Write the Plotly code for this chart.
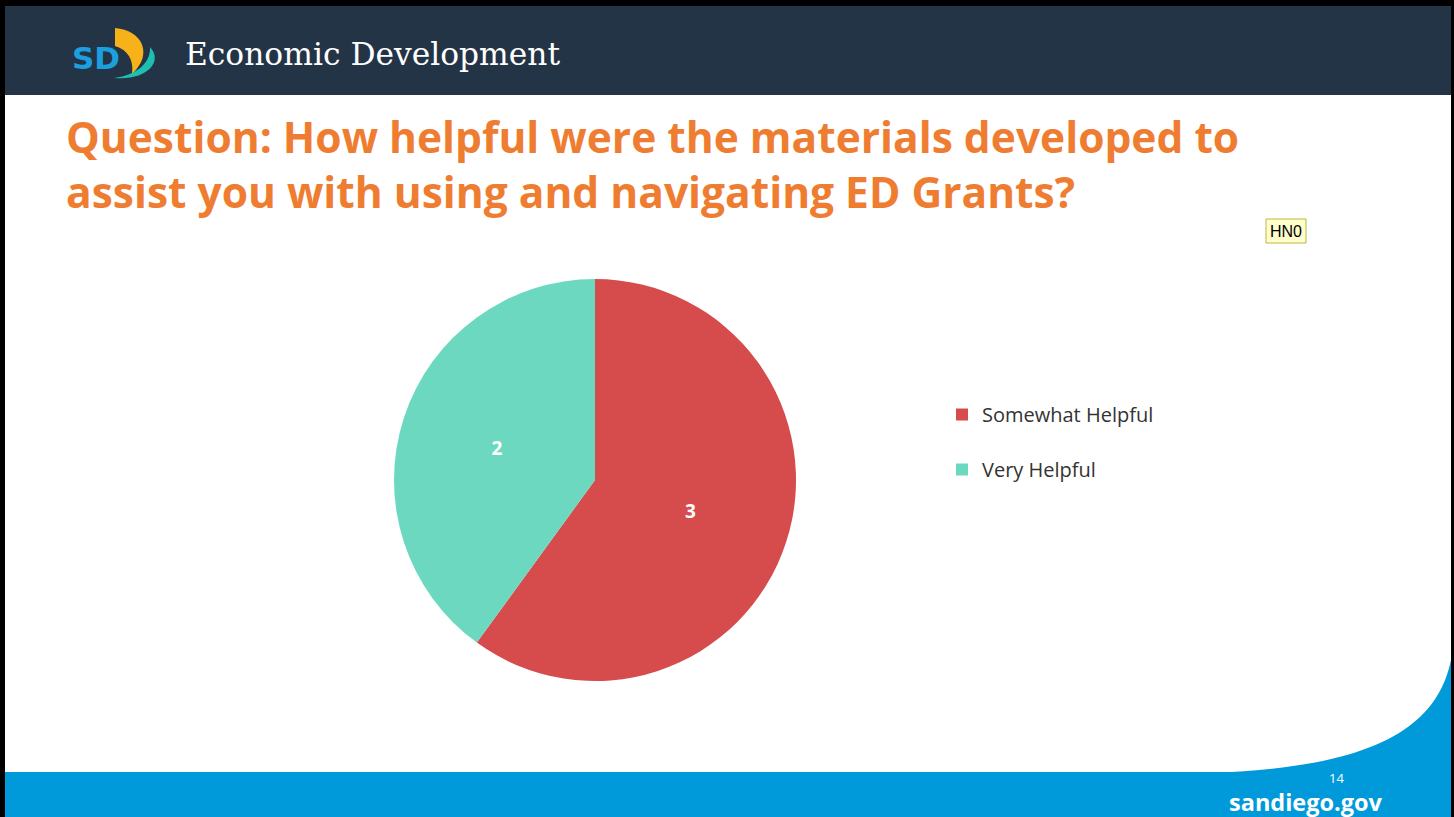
import plotly.graph_objects as go

W, H = 1454, 817

# ---- data ----
labels = ["Somewhat Helpful", "Very Helpful"]
values = [3, 2]
slice_colors = ["#D64C4C", "#6DD8C0"]
title_lines = ["Question: How helpful were the materials developed to",
               "assist you with using and navigating ED Grants?"]
header_text = "Economic Development"
footer_text = "sandiego.gov"
page_number = "14"
note_text = "HN0"


def X(px):
    return px / W


def Y(py):
    return 1 - py / H


def path(cmds):
    out = []
    for c in cmds:
        if isinstance(c, str):
            out.append(c)
        else:
            out.append(f"{X(c[0]):.5f},{Y(c[1]):.5f}")
    return " ".join(out)


fig = go.Figure()

fig.add_trace(go.Pie(
    labels=[l + "<br> " for l in labels],
    values=values,
    sort=False,
    direction="clockwise",
    rotation=0,
    marker=dict(colors=slice_colors, line=dict(width=0)),
    textinfo="value",
    textposition="inside",
    insidetextorientation="horizontal",
    textfont=dict(family="Open Sans", size=19, color="white", weight="bold"),
    domain=dict(x=[X(394), X(796)], y=[Y(681), Y(279)]),
    hoverinfo="label+value",
))

shapes = []
# header band
shapes.append(dict(type="rect", xref="paper", yref="paper", x0=X(0), x1=X(W), y0=Y(95), y1=Y(0),
                   fillcolor="#243447", line=dict(width=0), layer="below"))
# footer band
shapes.append(dict(type="rect", xref="paper", yref="paper", x0=X(0), x1=X(W), y0=Y(H), y1=Y(772),
                   fillcolor="#009ADB", line=dict(width=0), layer="below"))
# footer curve
shapes.append(dict(type="path", xref="paper", yref="paper",
                   path=path(["M", (1452, 655), "C", (1440, 725), (1380, 768), (1205, 773),
                              "L", (1452, 773), "Z"]),
                   fillcolor="#009ADB", line=dict(width=0), layer="below"))
# frame borders
shapes.append(dict(type="rect", xref="paper", yref="paper", x0=X(0), x1=X(W), y0=Y(6), y1=Y(0),
                   fillcolor="black", line=dict(width=0)))
shapes.append(dict(type="rect", xref="paper", yref="paper", x0=X(0), x1=X(5), y0=Y(H), y1=Y(0),
                   fillcolor="black", line=dict(width=0)))
shapes.append(dict(type="rect", xref="paper", yref="paper", x0=X(1451), x1=X(W), y0=Y(H), y1=Y(0),
                   fillcolor="black", line=dict(width=0)))
# logo: yellow crescent
shapes.append(dict(type="path", xref="paper", yref="paper",
                   path=path(["M", (115, 28), "C", (142, 30), (154, 54), (132, 74),
                              "C", (134, 60), (128, 50), (115, 46), "Z"]),
                   fillcolor="#F7B21A", line=dict(width=0)))
# logo: teal swoosh
shapes.append(dict(type="path", xref="paper", yref="paper",
                   path=path(["M", (150, 47), "C", (164, 62), (146, 81), (114, 78),
                              "C", (138, 75), (151, 62), (150, 47), "Z"]),
                   fillcolor="#1EBFB0", line=dict(width=0)))
# note box
shapes.append(dict(type="rect", xref="paper", yref="paper", x0=X(1266), x1=X(1306), y0=Y(243), y1=Y(219),
                   fillcolor="#FFFFCC", line=dict(width=1, color="#BDB540")))

annotations = []
annotations.append(dict(text="<b>SD</b>", x=X(70), y=Y(58), xref="paper", yref="paper",
                        xanchor="left", yanchor="middle", showarrow=False,
                        font=dict(family="DejaVu Sans", size=31, color="#1C9FDF")))
annotations.append(dict(text=header_text, x=X(183), y=Y(54), xref="paper", yref="paper",
                        xanchor="left", yanchor="middle", showarrow=False,
                        font=dict(family="DejaVu Serif", size=31.3, color="white")))
annotations.append(dict(text="<br>".join(title_lines), x=X(64), y=Y(164), xref="paper", yref="paper",
                        xanchor="left", yanchor="middle", align="left", showarrow=False,
                        font=dict(family="Open Sans", size=42.5, color="#EF7D31", weight="bold")))
annotations.append(dict(text=note_text, x=X(1286), y=Y(231), xref="paper", yref="paper",
                        xanchor="center", yanchor="middle", showarrow=False,
                        font=dict(family="Liberation Sans", size=16, color="black")))
annotations.append(dict(text=footer_text, x=X(1306), y=Y(802), xref="paper", yref="paper",
                        xanchor="center", yanchor="middle", showarrow=False,
                        font=dict(family="Open Sans", size=23.5, color="white", weight="bold")))
annotations.append(dict(text=page_number, x=X(1336), y=Y(778), xref="paper", yref="paper",
                        xanchor="center", yanchor="middle", showarrow=False,
                        font=dict(family="Open Sans", size=13, color="white")))

fig.update_layout(
    width=W, height=H, autosize=False,
    margin=dict(l=0, r=0, t=0, b=0),
    paper_bgcolor="white", plot_bgcolor="white",
    shapes=shapes, annotations=annotations,
    showlegend=True,
    legend=dict(x=X(942), y=Y(395), xanchor="left", yanchor="top", valign="top",
                font=dict(family="Open Sans", size=20, color="#333333"),
                bgcolor="rgba(0,0,0,0)"),
)

fig.write_html("out.html", config={"displayModeBar": False},
               post_script="document.body.style.margin='0';document.body.style.overflow='hidden';")
